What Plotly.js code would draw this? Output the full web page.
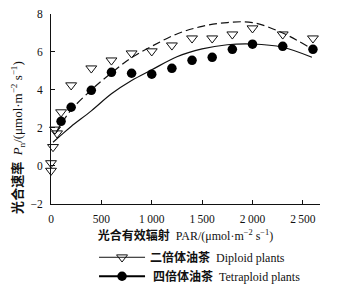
<!DOCTYPE html>
<html>
<head>
<meta charset="utf-8">
<script src="https://cdn.plot.ly/plotly-3.0.1.min.js"></script>
<style>html,body{margin:0;padding:0;background:#fff;}#chart{width:338px;height:294px;}</style>
</head>
<body>
<div id="chart"></div>
<script>
// Observed points
const diploidPAR = [0, 0, 20, 40, 60, 100, 200, 400, 600, 800, 1000, 1200, 1400, 1600, 1800, 2000, 2300, 2600];
const diploidPn  = [-0.25, 0.15, 1.0, 1.92, 1.72, 2.83, 4.25, 5.14, 5.56, 5.93, 6.04, 6.35, 6.72, 6.72, 6.93, 7.25, 6.93, 6.72];
const tetraPAR = [100, 200, 400, 600, 800, 1000, 1200, 1400, 1600, 1800, 2000, 2300, 2600];
const tetraPn  = [2.35, 3.09, 3.98, 4.93, 4.88, 4.83, 5.14, 5.56, 5.72, 6.14, 6.41, 6.30, 6.14];
// Fitted curves
const diploidFitPAR = [50, 100, 200, 400, 600, 800, 1000, 1250, 1500, 1750, 2000, 2300, 2560];
const diploidFitPn  = [1.75, 2.2, 2.95, 4.0, 4.9, 5.7, 6.3, 6.95, 7.35, 7.55, 7.55, 7.0, 6.25];
const tetraFitPAR = [20, 100, 200, 400, 600, 800, 1000, 1250, 1500, 1750, 2000, 2300, 2590];
const tetraFitPn  = [1.25, 1.62, 2.08, 2.9, 3.8, 4.5, 5.06, 5.75, 6.16, 6.38, 6.42, 6.25, 5.72];
// Ticks
const xTickVals = [0, 500, 1000, 1500, 2000, 2500];
const xTickText = ['0', '500', '1\u2009000', '1\u2009500', '2\u2009000', '2\u2009500'];
const yTickVals = [-2, 0, 2, 4, 6, 8];
const yTickText = ['\u22122', '0', '2', '4', '6', '8'];
const diploidName = '<b>二倍体油茶</b>\u00a0\u00a0Diploid plants';
const tetraName = '\u00a0<b>四倍体油茶</b>\u00a0\u00a0Tetraploid plants';

const FONT = '"Liberation Serif", "Times New Roman", "Noto Sans CJK SC", serif';

const traces = [
  {x: diploidFitPAR, y: diploidFitPn, mode: 'lines', line: {color: '#111', width: 1.2, dash: '8px,4px', shape: 'spline'}, showlegend: false, hoverinfo: 'skip'},
  {x: tetraFitPAR, y: tetraFitPn, mode: 'lines', line: {color: '#111', width: 1.2, shape: 'spline'}, showlegend: false, hoverinfo: 'skip'},
  {x: diploidPAR, y: diploidPn, mode: 'markers', marker: {symbol: 'triangle-down-open', size: 9.5, color: '#111', line: {width: 1}}, showlegend: false, cliponaxis: false},
  {x: tetraPAR, y: tetraPn, mode: 'markers', marker: {symbol: 'circle', size: 9.5, color: '#000'}, showlegend: false, cliponaxis: false},
  {x: [null], y: [null], name: diploidName, mode: 'lines+markers', line: {color: '#111', width: 1}, marker: {symbol: 'triangle-down-open', size: 9.5, color: '#111', line: {width: 1}}},
  {x: [null], y: [null], name: tetraName, mode: 'lines+markers', line: {color: '#000', width: 2}, marker: {symbol: 'circle', size: 9.5, color: '#000'}}
];

const layout = {
  width: 338, height: 294,
  margin: {l: 51, r: 18, t: 14, b: 90},
  paper_bgcolor: '#fff', plot_bgcolor: '#fff',
  font: {family: FONT, size: 11, color: '#111'},
  showlegend: true,
  legend: {
    x: 0.16, y: 0.011, yref: 'container', xanchor: 'left', yanchor: 'bottom',
    font: {family: FONT, size: 12, color: '#111'},
    itemwidth: 46, tracegroupgap: 0, bgcolor: 'rgba(0,0,0,0)'
  },
  xaxis: {
    range: [0, 2670], showgrid: false, zeroline: false, automargin: false,
    showline: true, linecolor: '#111', linewidth: 1,
    ticks: 'inside', ticklen: 4, tickcolor: '#111',
    tickvals: xTickVals, ticktext: xTickText,
    tickfont: {family: FONT, size: 11.5},
    ticklabelstandoff: 4,
    title: {text: '<b>光合有效辐射</b>\u00a0\u00a0PAR/(μmol·m<sup>−2</sup> s<sup>−1</sup>)', font: {family: FONT, size: 12}, standoff: 7}
  },
  yaxis: {
    range: [-2.005, 8], showgrid: false, zeroline: false, automargin: false,
    showline: true, linecolor: '#111', linewidth: 1,
    ticks: 'inside', ticklen: 4, tickcolor: '#111',
    tickvals: yTickVals, ticktext: yTickText,
    tickfont: {family: FONT, size: 11.5},
    ticklabelstandoff: 5
  },
  annotations: [{
    text: '<b>光合速率</b>\u00a0\u00a0<i>P</i><sub>n</sub>/(μmol·m<sup>−2</sup> s<sup>−1</sup>)',
    xref: 'paper', yref: 'paper', x: -0.125, y: 0.35,
    xanchor: 'center', yanchor: 'middle', textangle: -90, showarrow: false,
    font: {family: FONT, size: 13, color: '#111'}
  }]
};

Plotly.newPlot('chart', traces, layout, {displayModeBar: false, staticPlot: true});
</script>
</body>
</html>
